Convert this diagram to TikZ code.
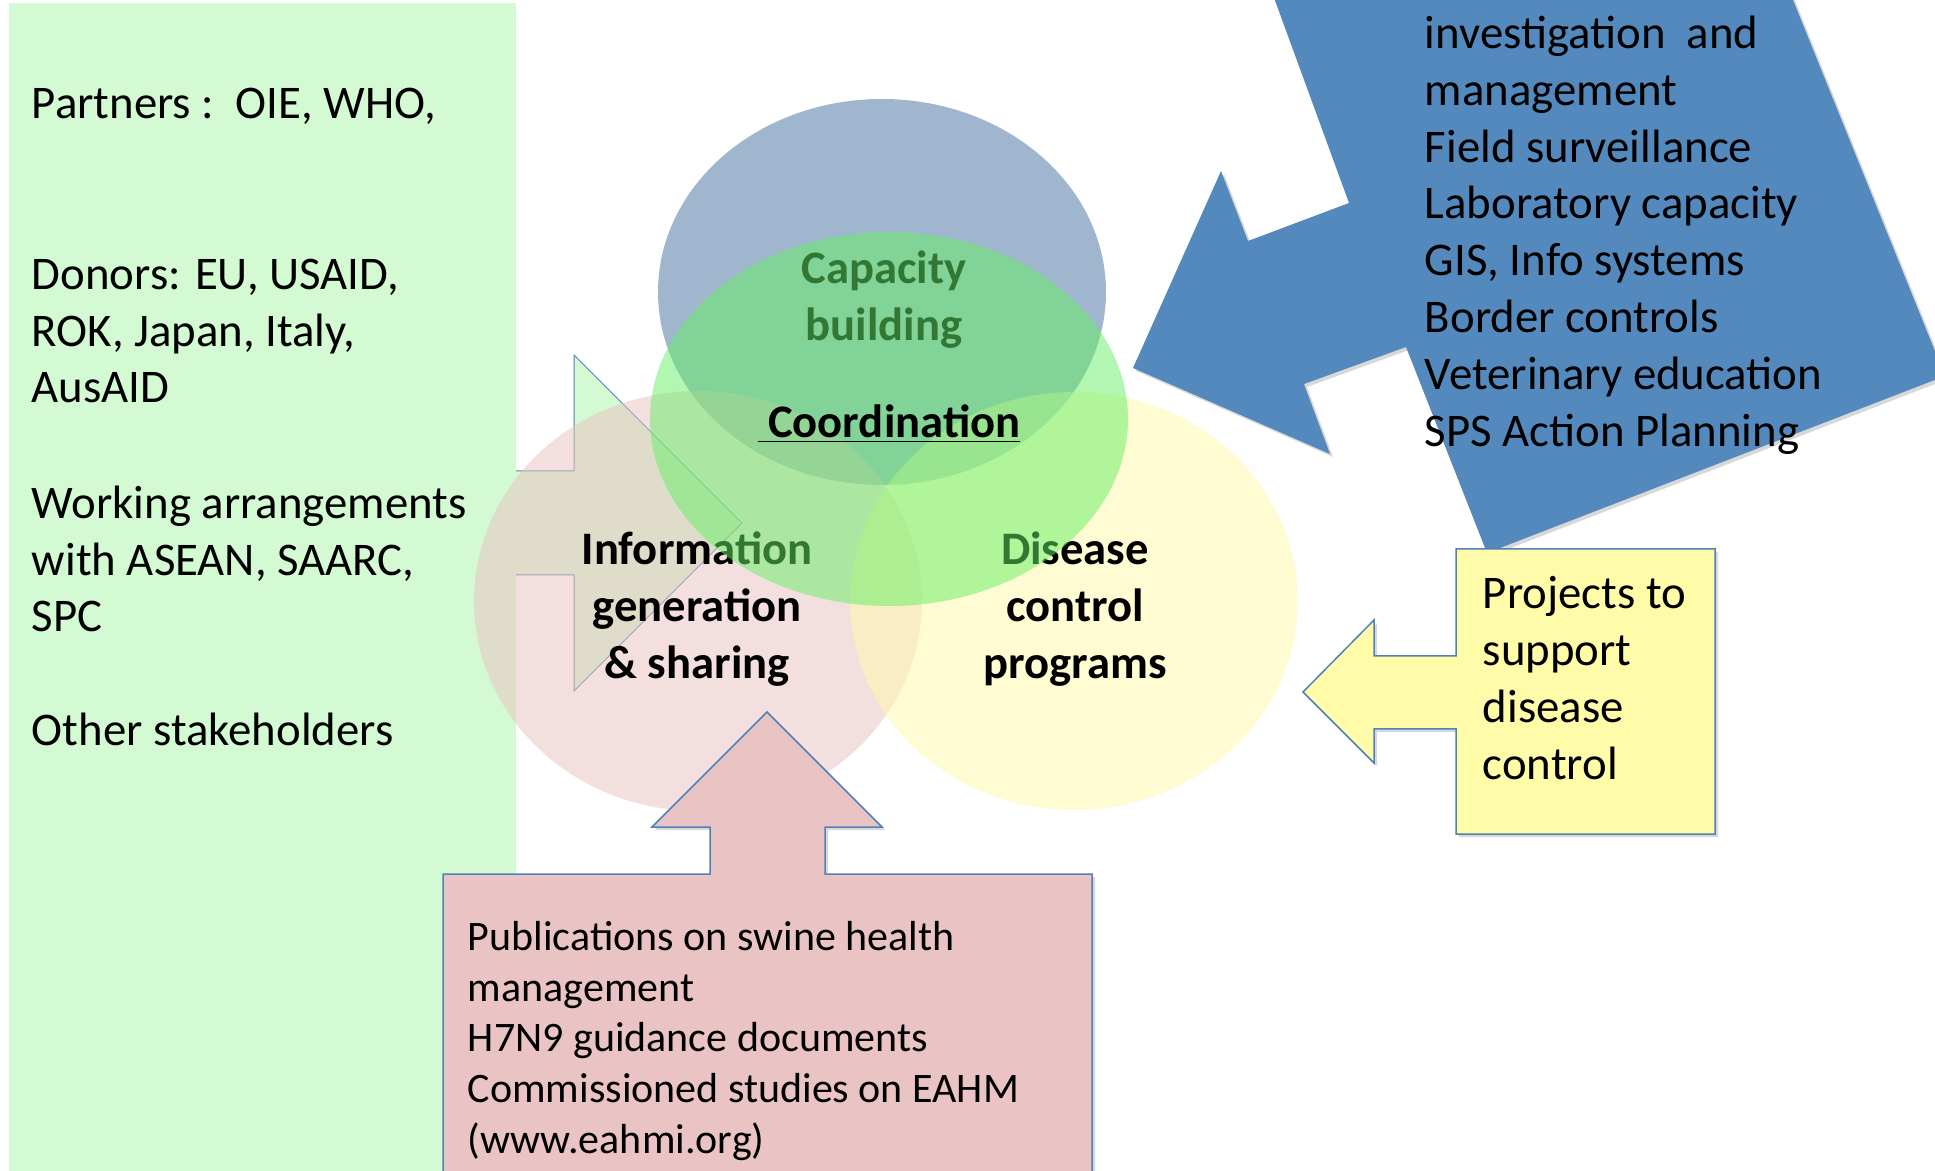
\documentclass[tikz,border=0pt]{standalone}
\usepackage{fontspec}
\setmainfont{Carlito}
\usetikzlibrary{shadows}

\begin{document}
\begin{tikzpicture}[x=0.5pt,y=0.5pt,yscale=-1,xscale=1,
  bubble/.style={draw=none, fill opacity=0.5},
  callout/.style={draw={rgb, 255:red, 79; green, 129; blue, 189}, line width=0.75pt, line join=miter},
  soft shadow/.style={drop shadow={opacity=0.3, shadow xshift=1.5pt, shadow yshift=-1.5pt}},
  list/.style={inner sep=0.75pt, align=left, font=\fontsize{23.4}{28.4}\selectfont},
  small list/.style={inner sep=0.75pt, align=left, font=\fontsize{21}{25.4}\selectfont},
  hub/.style={inner sep=0.75pt, align=center, font=\bfseries\fontsize{23.3}{28.4}\selectfont}
]
\useasboundingbox (0,0) rectangle (1935,1171);
\fill [white] (0,0) rectangle (1935,1171);
\clip (0,0) rectangle (1935,1171);

%Shape: Right Arrow
\draw [callout, line width=0.5pt, fill={rgb, 255:red, 211; green, 250; blue, 211}] (490,471) -- (574,471) -- (574,355) -- (742,523) -- (574,691) -- (574,575) -- (490,575) -- cycle ;
%Shape: Rectangle
\fill [fill={rgb, 255:red, 211; green, 250; blue, 211}] (9,3) rectangle (516,1180) ;

%Shape: Ellipse
\fill [bubble, fill={rgb, 255:red, 67; green, 111; blue, 159}] (882,292) ellipse [x radius=224, y radius=193] ;
%Shape: Ellipse
\fill [bubble, fill={rgb, 255:red, 235; green, 193; blue, 193}] (698,601) ellipse [x radius=224, y radius=210] ;
%Shape: Ellipse
\fill [bubble, fill={rgb, 255:red, 255; green, 251; blue, 168}] (1074,601) ellipse [x radius=224, y radius=209] ;

% Text Node
\draw (884,300) node (capacity) [hub] {Capacity\\building};
% Text Node
\draw (697,609) node (information) [hub] {Information\\generation\\\& sharing};
% Text Node
\draw (1075,609) node (disease) [hub] {Disease\\control\\programs};

%Shape: Ellipse
\fill [bubble, fill={rgb, 255:red, 100; green, 240; blue, 100}] (889,419) ellipse [x radius=239, y radius=187] ;

% Text Node
\draw (889,438) node (coordination) [anchor=base, hub] {\underline{~Coordination}};

%Shape: Bent Arrow
\fill [soft shadow, fill={rgb, 255:red, 84; green, 137; blue, 190}] (1273,-5) -- (1349,203) -- (1248,241) -- (1221,171) -- (1133,368) -- (1330,454) -- (1304,384) -- (1406,347) -- (1487,553) -- (1945,376) -- (1791,-5) -- cycle ;

% Text Node
\draw (1423,235) node (support) [anchor=west, list] {investigation\ \ and\\management\\Field surveillance\\Laboratory capacity\\GIS, Info systems\\Border controls\\Veterinary education\\SPS Action Planning};

% Text Node
\draw (30,106) node (partners) [anchor=west, list] {Partners :\ \ OIE, WHO,};
% Text Node
\draw (30,331) node (donors) [anchor=west, list] {Donors: EU, USAID,\\ROK, Japan, Italy,\\AusAID};
% Text Node
\draw (30,559) node (working) [anchor=west, list] {Working arrangements\\with ASEAN, SAARC,\\SPC};
% Text Node
\draw (30,729) node (others) [anchor=west, list] {Other stakeholders};

%Shape: Left Arrow Callout
\draw [callout, soft shadow, fill={rgb, 255:red, 255; green, 251; blue, 168}] (1456,549) -- (1715,549) -- (1715,834) -- (1456,834) -- (1456,729) -- (1374,729) -- (1374,763) -- (1303,692) -- (1374,620) -- (1374,656) -- (1456,656) -- cycle ;
% Text Node
\draw (1481,678) node (projects) [anchor=west, list] {Projects to\\support\\disease\\control};

%Shape: Up Arrow Callout
\draw [callout, soft shadow, fill={rgb, 255:red, 234; green, 196; blue, 196}] (443,1190) -- (443,874) -- (710,874) -- (710,827) -- (652,827) -- (767,712) -- (882,827) -- (825,827) -- (825,874) -- (1092,874) -- (1092,1190) -- cycle ;
% Text Node
\draw (466,1041) node (publications) [anchor=west, small list] {Publications on swine health\\management\\H7N9 guidance documents\\Commissioned studies on EAHM\\(www.eahmi.org)};

\end{tikzpicture}
\end{document}
